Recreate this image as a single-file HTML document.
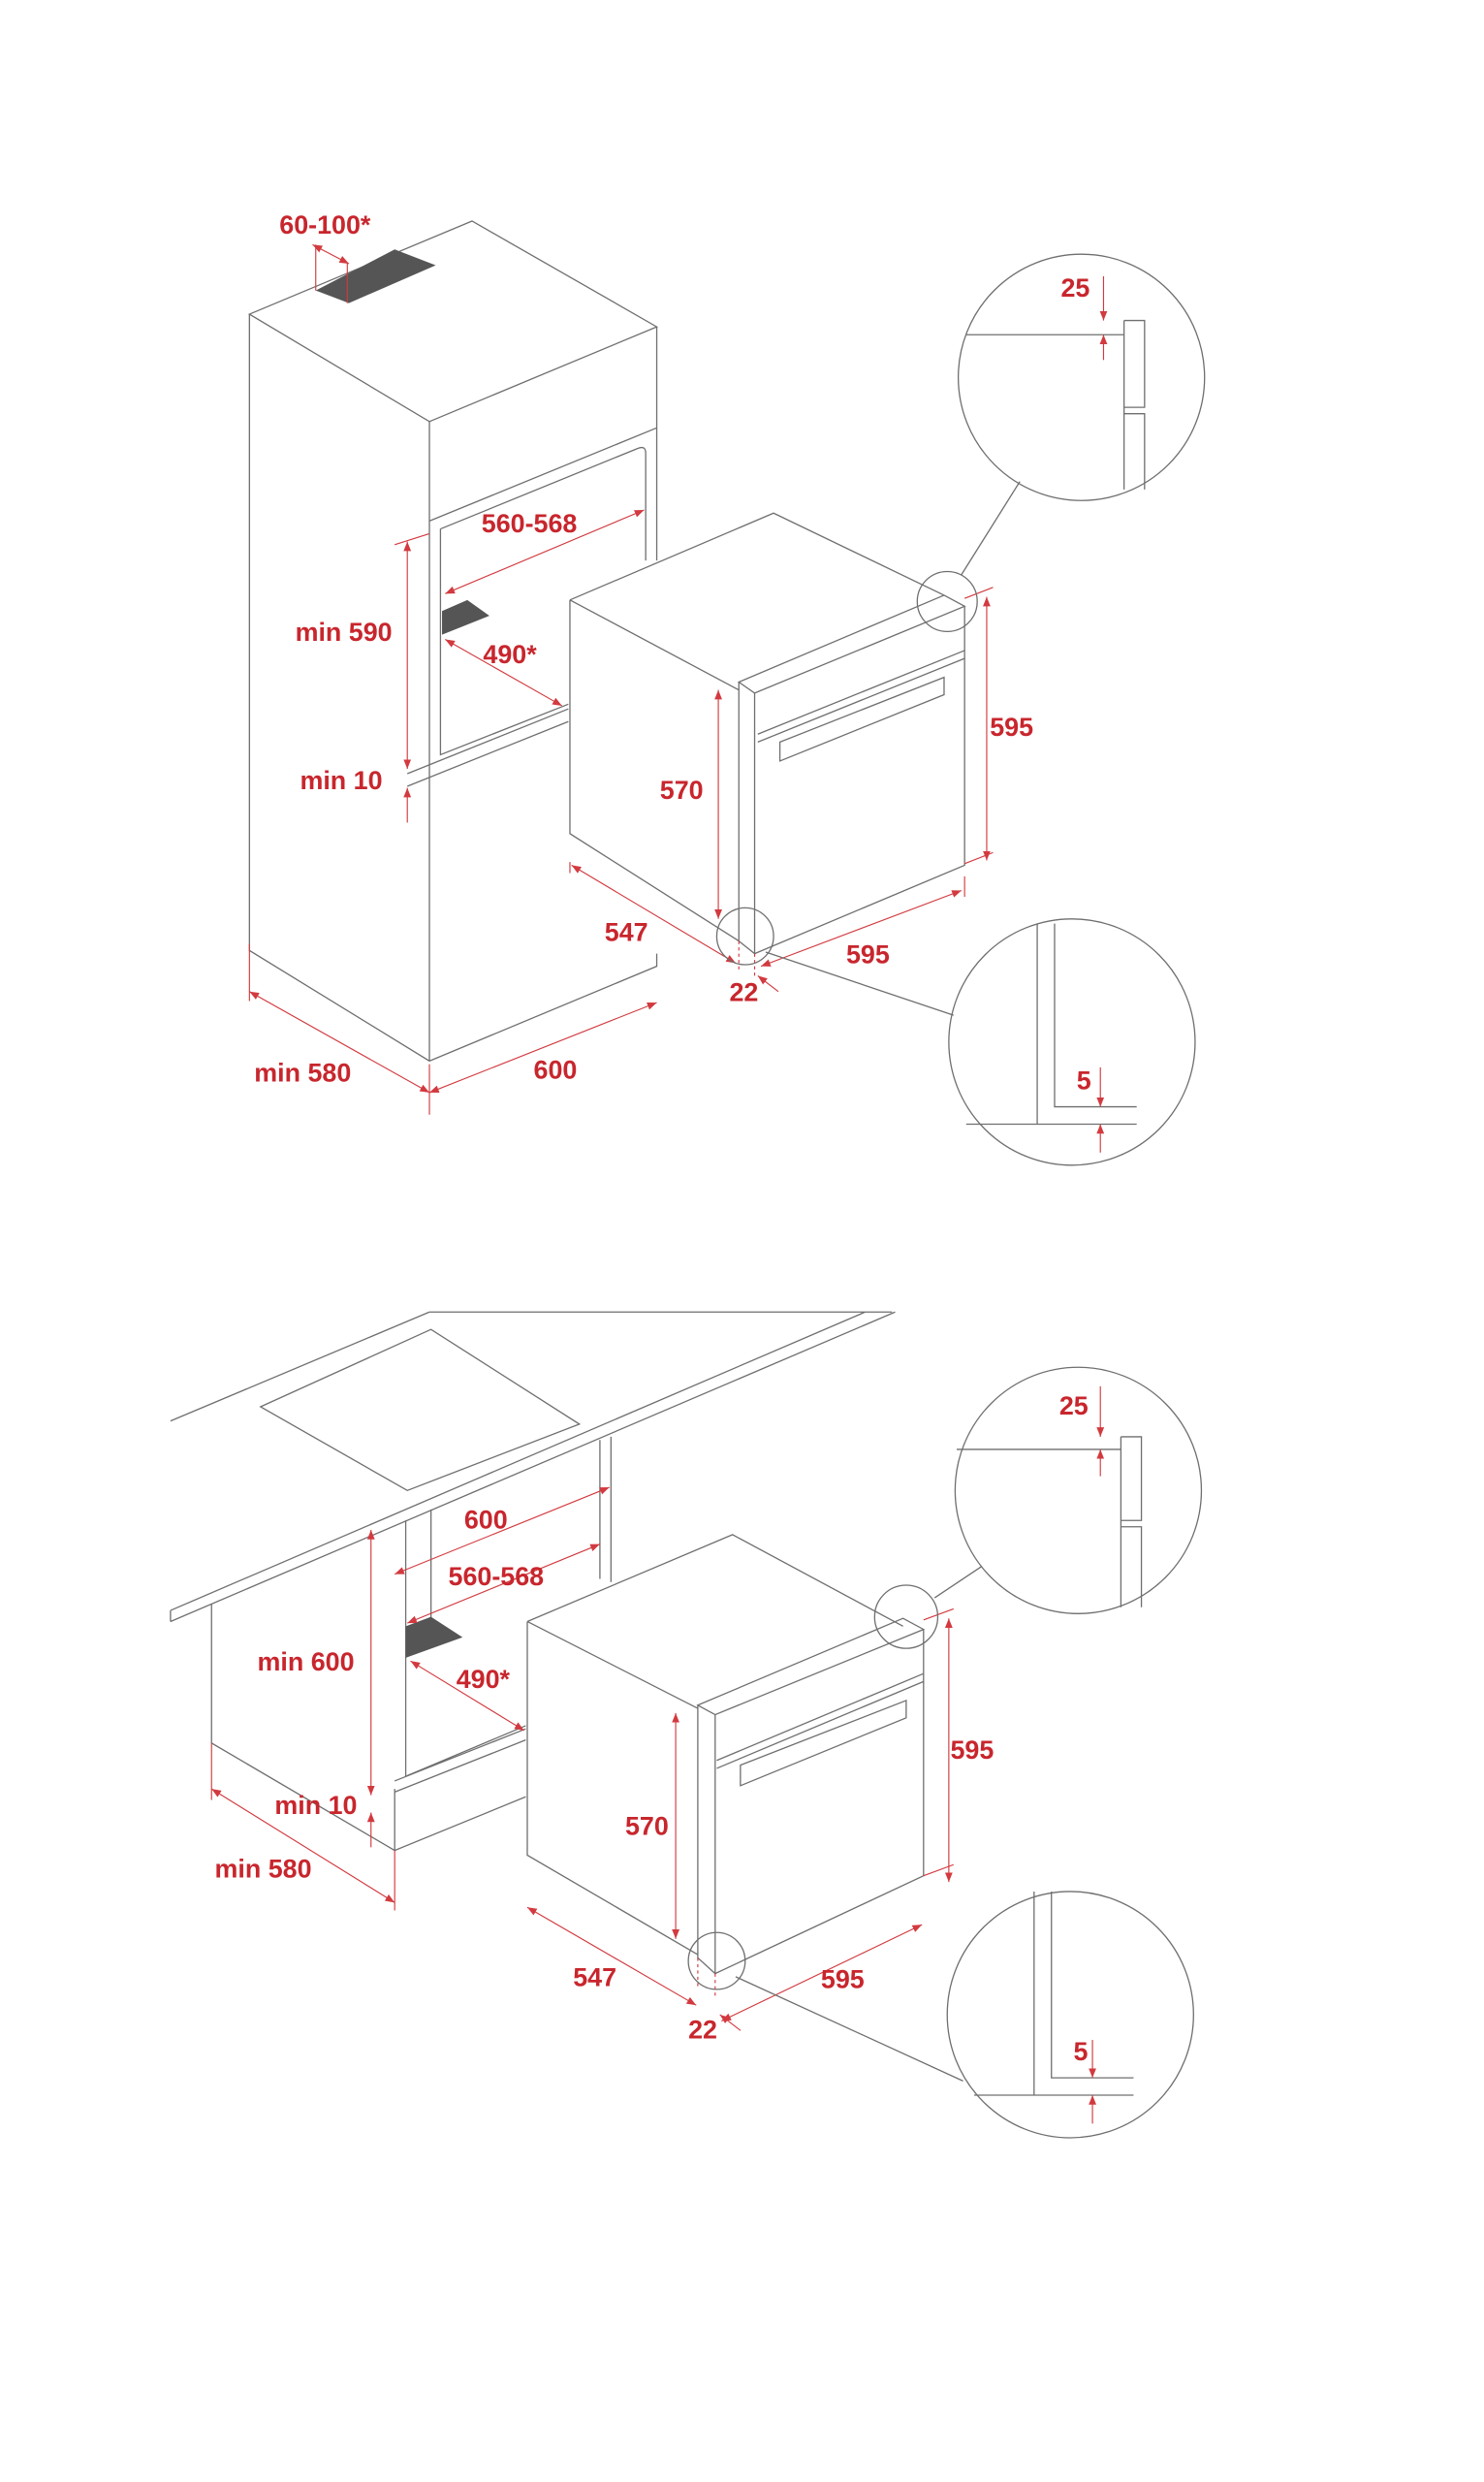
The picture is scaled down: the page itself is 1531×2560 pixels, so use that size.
<!DOCTYPE html>
<html><head><meta charset="utf-8"><style>
html,body{margin:0;padding:0;background:#fff}
svg{display:block}
text{font-family:"Liberation Sans",sans-serif;font-size:16.5px;fill:#c8262d;font-weight:600}
.g{stroke:#6f6f6f;stroke-width:0.8;fill:none}
.r{stroke:#d23a3f;stroke-width:0.7;fill:none}
.d{stroke:#d23a3f;stroke-width:0.7;fill:none;marker-start:url(#a);marker-end:url(#a)}
.e{stroke:#d23a3f;stroke-width:0.7;fill:none;marker-end:url(#a)}
</style></head><body>
<svg width="1531" height="2560" viewBox="0 0 940 1572" preserveAspectRatio="none" xmlns="http://www.w3.org/2000/svg">
<defs><marker id="a" viewBox="0 0 10 10" refX="10" refY="5" markerWidth="6" markerHeight="6" orient="auto-start-reverse" markerUnits="userSpaceOnUse"><path d="M0,1 L10,5 L0,9z" fill="#d23a3f"/></marker></defs>

<!-- TOP: tall cabinet -->
<polygon class="g" points="158,199 299,140 416,207 272,267"/>
<path class="g" d="M158,199V602L272,672L416,612V604 M272,267V672 M416,207V355 M272,330L416,271 M279,335L404,284 Q409,282 409,287V355 M279,335V478L360,446 M258,490L360,449 M258,498L360,457"/>
<polygon points="200,184 250,158 276,168 221,192" fill="#555"/>
<polygon points="280,387 296,380 310,390 280,402" fill="#555"/>
<path class="r" d="M200,155V184 M220,166V192"/>
<line class="d" x1="198" y1="155" x2="221" y2="167"/>
<text x="177" y="148">60-100*</text>
<line class="d" x1="282" y1="376" x2="408" y2="323"/>
<text x="305" y="337">560-568</text>
<line class="d" x1="282" y1="405" x2="356" y2="447"/>
<text x="306" y="420">490*</text>
<line class="r" x1="250" y1="345" x2="272" y2="338"/>
<line class="d" x1="258" y1="343" x2="258" y2="487"/>
<text x="187" y="406">min 590</text>
<line class="e" x1="258" y1="521" x2="258" y2="499"/>
<text x="190" y="500">min 10</text>
<path class="r" d="M158,598V634 M272,674V706"/>
<line class="d" x1="158" y1="628" x2="272" y2="692"/>
<line class="d" x1="272" y1="692" x2="416" y2="635"/>
<text x="161" y="685">min 580</text>
<text x="338" y="683">600</text>

<!-- TOP oven -->
<path class="g" d="M361,380L490,325L598,377 M361,380L468,437 M361,380V528L468,596 M468,432L598,377L611,384L478,439Z M468,432V596L478,604V439 M611,384V548L478,604 M480,465L611,412 M480,470L611,417"/>
<polygon class="g" points="494,470 598,429 598,440 494,482"/>
<line class="d" x1="455" y1="437" x2="455" y2="582"/>
<text x="418" y="506">570</text>
<path class="r" d="M611,379L629,372 M611,547L629,540"/>
<line class="d" x1="625" y1="378" x2="625" y2="545"/>
<text x="627" y="466">595</text>
<path class="r" d="M361,546V553 M611,555V568"/>
<line class="d" x1="362" y1="548" x2="466" y2="610"/>
<text x="383" y="596">547</text>
<line class="d" x1="482" y1="612" x2="609" y2="564"/>
<text x="536" y="610">595</text>
<path class="r" stroke-dasharray="2,2" d="M468,596V614 M478,604V620"/>
<line class="e" x1="493" y1="628" x2="480" y2="618"/>
<text x="462" y="634">22</text>
<circle class="g" cx="600" cy="381" r="19"/>
<line class="g" x1="609" y1="364" x2="646" y2="305"/>
<circle class="g" cx="685" cy="239" r="78"/>
<path class="g" d="M612,212H712 M712,203H725V258H712 M712,262H725V310 M712,203V310"/>
<line class="e" x1="699" y1="175" x2="699" y2="203"/>
<line class="e" x1="699" y1="228" x2="699" y2="212"/>
<text x="672" y="188">25</text>
<circle class="g" cx="472" cy="593" r="18"/>
<line class="g" x1="485" y1="603" x2="604" y2="643"/>
<circle class="g" cx="679" cy="660" r="78"/>
<path class="g" d="M657,585V712 M668,585V701H720 M612,712H720"/>
<line class="e" x1="697" y1="676" x2="697" y2="701"/>
<line class="e" x1="697" y1="730" x2="697" y2="712"/>
<text x="682" y="690">5</text>

<!-- BOTTOM: countertop -->
<path class="g" d="M272,831H565 M108,900L272,831 M108,1020L548,831 M108,1027L567,831 M108,1020V1027"/>
<polygon class="g" points="165,891 273,842 367,902 258,944"/>
<path class="g" d="M134,1016V1104L250,1172L333,1138 M250,1172V1133 M257,963V1125L333,1093 M273,956V1030 M380,912V1000 M387,910V1002 M250,1128L333,1095 M250,1135L333,1102"/>
<polygon points="257,1030 273,1024 293,1037 257,1050" fill="#555"/>
<line class="d" x1="250" y1="997" x2="386" y2="942"/>
<text x="294" y="968">600</text>
<line class="d" x1="258" y1="1028" x2="380" y2="978"/>
<text x="284" y="1004">560-568</text>
<line class="d" x1="260" y1="1052" x2="332" y2="1096"/>
<text x="289" y="1069">490*</text>
<line class="d" x1="235" y1="969" x2="235" y2="1137"/>
<text x="163" y="1058">min 600</text>
<line class="e" x1="235" y1="1170" x2="235" y2="1148"/>
<text x="174" y="1149">min 10</text>
<path class="r" d="M134,1104V1140 M250,1172V1210"/>
<line class="d" x1="134" y1="1133" x2="250" y2="1205"/>
<text x="136" y="1189">min 580</text>

<!-- BOTTOM oven -->
<path class="g" d="M334,1027L464,972L572,1030 M334,1027L442,1082 M334,1027V1175L442,1238 M442,1080L572,1025L585,1032L453,1086Z M442,1080V1240L453,1250V1086 M585,1032V1188L453,1250 M454,1115L585,1060 M454,1120L585,1065"/>
<polygon class="g" points="469,1118 574,1077 574,1088 469,1131"/>
<line class="d" x1="428" y1="1085" x2="428" y2="1228"/>
<text x="396" y="1162">570</text>
<path class="r" d="M585,1026L604,1019 M585,1188L604,1181"/>
<line class="d" x1="601" y1="1025" x2="601" y2="1192"/>
<text x="602" y="1114">595</text>
<line class="d" x1="334" y1="1208" x2="441" y2="1270"/>
<text x="363" y="1258">547</text>
<line class="d" x1="457" y1="1280" x2="584" y2="1219"/>
<text x="520" y="1259">595</text>
<path class="r" stroke-dasharray="2,2" d="M442,1240V1258 M453,1250V1265"/>
<line class="e" x1="469" y1="1286" x2="456" y2="1276"/>
<text x="436" y="1291">22</text>
<circle class="g" cx="574" cy="1024" r="20"/>
<line class="g" x1="592" y1="1012" x2="622" y2="992"/>
<circle class="g" cx="683" cy="944" r="78"/>
<path class="g" d="M606,918H710 M710,910H723V963H710 M710,967H723V1018 M710,910V1018"/>
<line class="e" x1="697" y1="878" x2="697" y2="910"/>
<line class="e" x1="697" y1="935" x2="697" y2="918"/>
<text x="671" y="896">25</text>
<circle class="g" cx="454" cy="1242" r="18"/>
<line class="g" x1="466" y1="1252" x2="610" y2="1318"/>
<circle class="g" cx="678" cy="1276" r="78"/>
<path class="g" d="M655,1198V1327 M666,1198V1316H718 M617,1327H718"/>
<line class="e" x1="692" y1="1292" x2="692" y2="1316"/>
<line class="e" x1="692" y1="1345" x2="692" y2="1327"/>
<text x="680" y="1305">5</text>
</svg>
</body></html>
